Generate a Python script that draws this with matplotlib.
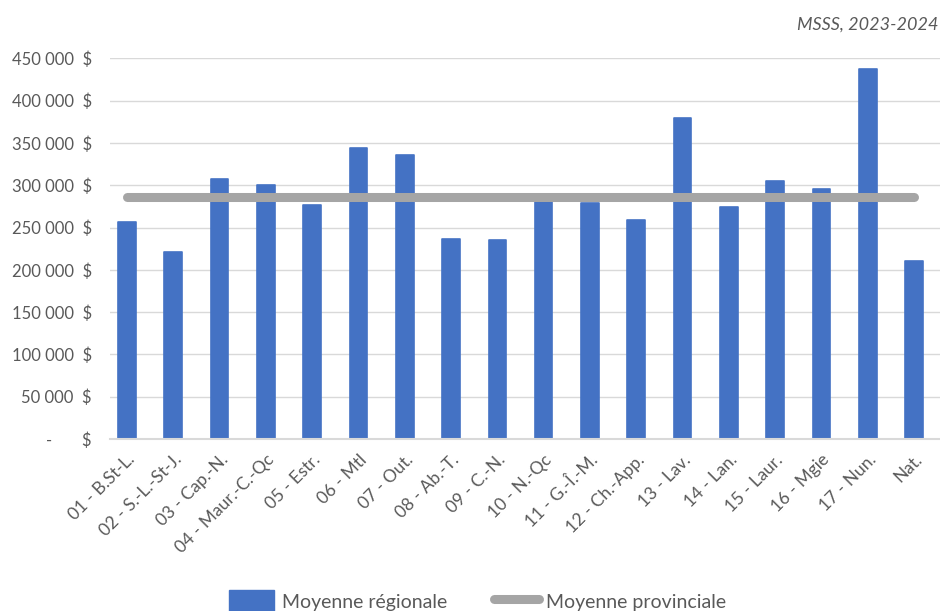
import matplotlib
matplotlib.use("Agg")
import matplotlib.pyplot as plt
from matplotlib.patches import Patch
from matplotlib.lines import Line2D
from matplotlib.ticker import FuncFormatter

categories = ["01 - B.St-L.", "02 - S.-L.-St-J.", "03 - Cap.-N.", "04 - Maur.-C.-Qc",
              "05 - Estr.", "06 - Mtl", "07 - Out.", "08 - Ab.-T.", "09 - C.-N.",
              "10 - N.-Qc", "11 - G.-Î.-M.", "12 - Ch.-App.", "13 - Lav.", "14 - Lan.",
              "15 - Laur.", "16 - Mgie", "17 - Nun.", "Nat."]
regional = [256100, 221000, 307300, 300600, 276900, 343600, 335700, 236800, 235200,
            288000, 279300, 259200, 379800, 273900, 305300, 295900, 437000, 210400]
provincial = 285700
yticks = [0, 50000, 100000, 150000, 200000, 250000, 300000, 350000, 400000, 450000]

plt.rcParams['font.family'] = ['Lato', 'DejaVu Sans']
txt = '#595959'
blue = '#4472C4'
gray = '#A5A5A5'

W, H = 940, 611
fig = plt.figure(figsize=(W / 100, H / 100), dpi=100)
ax = fig.add_axes([110 / W, 1 - 439 / H, 1 - 110 / W, (439 - 58.3) / H])

x = list(range(len(categories)))
ax.bar(x, regional, width=0.38, color=blue, edgecolor=blue, linewidth=1.2,
       joinstyle='round', zorder=2)
ax.plot([x[0], x[-1]], [provincial, provincial], color=gray, lw=6.5,
        solid_capstyle='round', zorder=3)

ax.set_xlim(-0.367, 17.56)
ax.set_ylim(0, 450000)
ax.set_yticks(yticks)

def fmt(v, pos):
    if v == 0:
        return "-       $"
    return f"{int(v):,}".replace(",", " ") + "  $"

ax.yaxis.set_major_formatter(FuncFormatter(fmt))
ax.grid(axis='y', color='#D9D9D9', lw=1.0, zorder=0)
ax.set_axisbelow(True)
for s in ['top', 'right', 'left']:
    ax.spines[s].set_visible(False)
ax.spines['bottom'].set_color('#D9D9D9')
ax.spines['bottom'].set_linewidth(1.5)
ax.tick_params(axis='y', length=0, pad=13, labelsize=12, labelcolor=txt)
ax.tick_params(axis='x', length=0, pad=9, labelsize=12.5, labelcolor=txt)
ax.set_xticks(x)
ax.set_xticklabels(categories, rotation=45, ha='right', rotation_mode='anchor')

fig.text(0.998, 1 - 25 / H, "MSSS, 2023-2024", ha='right', va='center',
         fontsize=13, style='italic', color=txt)

handles = [Patch(facecolor=blue, edgecolor=blue, label="Moyenne régionale"),
           Line2D([0], [0], color=gray, lw=6.5, solid_capstyle='round',
                  label="Moyenne provinciale")]
fig.legend(handles=handles, loc='center', bbox_to_anchor=(478 / W, 1 - 601 / H),
           ncol=2, frameon=False, fontsize=14, labelcolor=txt,
           handlelength=2.3, handleheight=1.3, handletextpad=0.4, columnspacing=2.4)

fig.savefig("out.png", dpi=100)
